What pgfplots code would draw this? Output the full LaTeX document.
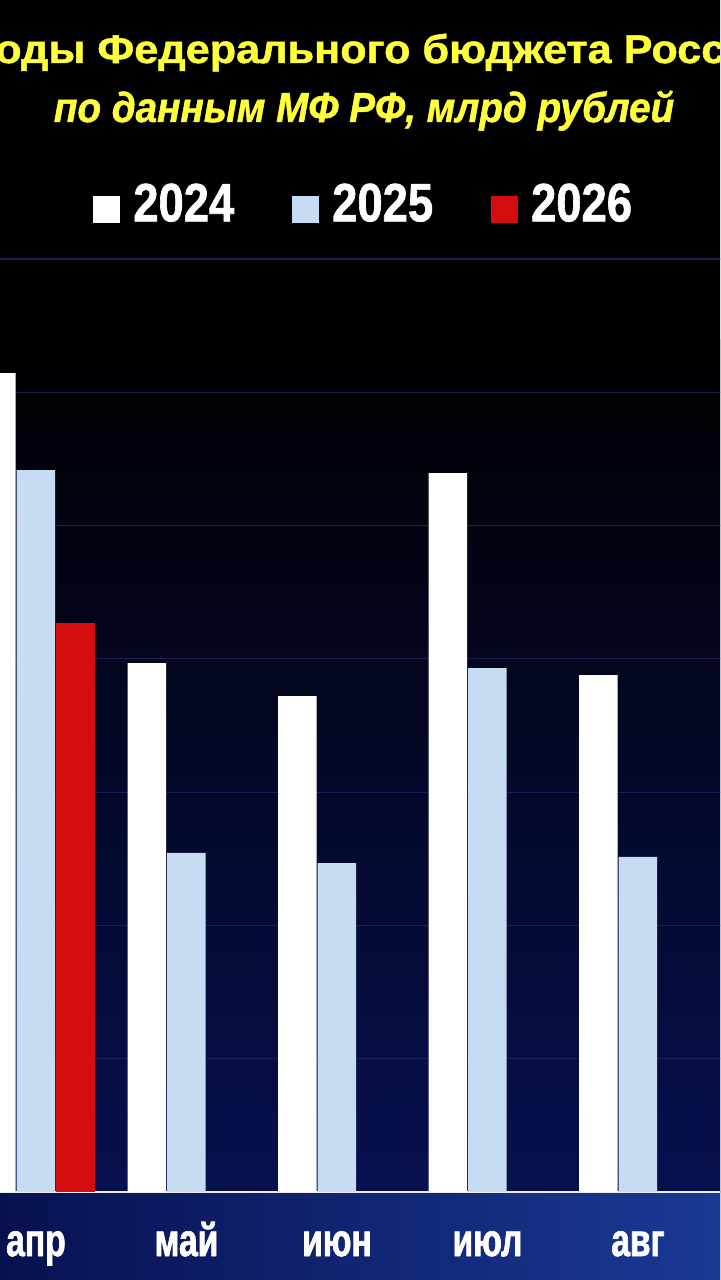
\documentclass[border=0pt]{standalone}
\usepackage{fontspec}
\setmainfont{Liberation Sans}
\newfontfamily\titlef[FakeStretch=1.08, FakeBold=1.2]{Liberation Sans}
\newfontfamily\subf[FakeStretch=0.92, FakeBold=1.2]{Liberation Sans}
\newfontfamily\legf[FakeStretch=0.84, FakeBold=1.2]{Liberation Sans}
\newfontfamily\labf[FakeStretch=0.73, FakeBold=1.5]{Liberation Sans}
\usepackage{pgfplots}
\pgfplotsset{compat=1.18}

\definecolor{ttl}{HTML}{FFFF3C}
\definecolor{bgblue}{HTML}{07104F}
\definecolor{bgblue2}{HTML}{1A3A96}
\definecolor{gridc}{HTML}{1E1E55}
\definecolor{lb}{HTML}{C6DCF3}
\definecolor{rd}{HTML}{D40E0E}

% months: 0=апр 1=май 2=июн 3=июл 4=авг
\pgfplotstableread{
x  y
0  3072
1  1984
2  1860
3  2697
4  1939
}\ytwentyfour
\pgfplotstableread{
x  y
0  2708
1  1272
2  1234
3  1965
4  1257
}\ytwentyfive
\pgfplotstableread{
x  y
0  2134
}\ytwentysix

\begin{document}
\begin{tikzpicture}
\useasboundingbox (0,0) rectangle (360pt,640pt);
\clip (0,0) rectangle (360pt,640pt);
\fill[black] (-5pt,-5pt) rectangle (365pt,645pt);
\shade[top color=black, bottom color=bgblue] (-5pt,44pt) rectangle (365pt,470pt);
\shade[left color=bgblue, right color=bgblue2] (-5pt,-5pt) rectangle (365pt,44pt);

\node[anchor=base, text=ttl, font=\titlef\bfseries\fontsize{20}{20}\selectfont]
  at (173.5pt,608.5pt) {Доходы Федерального бюджета России};
\node[anchor=base, text=ttl, font=\subf\bfseries\itshape\fontsize{21}{21}\selectfont]
  at (182pt,579pt) {по данным МФ РФ, млрд рублей};

% axis runs a little past the right edge of the page, as the chart is cropped there
\begin{axis}[
  at={(0pt,44pt)}, anchor=south west,
  width=363pt, height=466.5pt, scale only axis,
  xmin=-0.239, xmax=4.5849,
  ymin=0, ymax=3500,
  ybar=0.5pt, bar width=19.25pt,
  axis x line*=bottom, axis y line*=left,
  x axis line style={white!85!gray, line width=1pt, -},
  y axis line style={draw=none},
  major tick length=0pt,
  xtick={0,1,2,3,4},
  xticklabels={апр,май,июн,июл,авг},
  xticklabel style={anchor=base, yshift=-32pt, text=white,
    font=\labf\bfseries\fontsize{23}{23}\selectfont},
  ytick distance=500, yticklabels={},
  ymajorgrids, grid style={gridc, line width=0.6pt},
  legend columns=-1,
  legend style={at={(axis description cs:0.128,1.059)}, anchor=west,
    draw=none, fill=none, inner sep=0pt, nodes={inner sep=0pt},
    text=white, font=\legf\bfseries\fontsize{27}{27}\selectfont},
  legend image code/.code={\path[#1] (0pt,-9.5pt) rectangle (13.5pt,4pt);},
  /tikz/every odd column/.append style={column sep=6.5pt},
  /tikz/every even column/.append style={column sep=29pt},
]
\addplot[draw=none, fill=white] table[x=x, y=y] {\ytwentyfour};
\addplot[draw=none, fill=lb] table[x=x, y=y] {\ytwentyfive};
\addplot[draw=none, fill=rd] table[x=x, y=y] {\ytwentysix};
\legend{2024,2025,2026}
\end{axis}
\end{tikzpicture}
\end{document}
